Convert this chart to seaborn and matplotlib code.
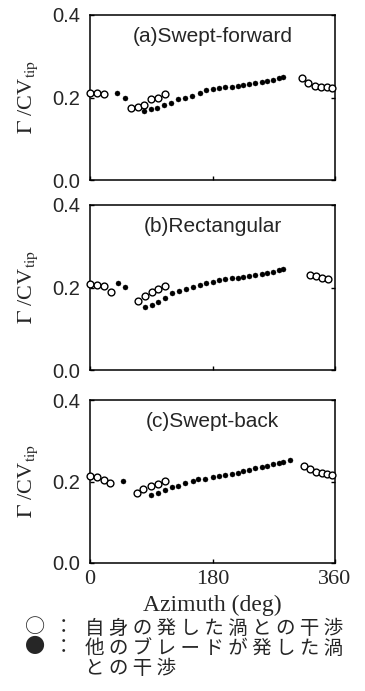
import numpy as np
import pandas as pd
import matplotlib
matplotlib.use("Agg")
import matplotlib.pyplot as plt
import seaborn as sns

# -----------------------------
# Data
# -----------------------------
panels = ["(a)Swept-forward", "(b)Rectangular", "(c)Swept-back"]

# open circles: interference with the blade's own vortex
open_a_x = [0, 10, 20, 60, 70, 80, 90, 100, 110, 311, 321, 331, 339, 348, 355]
open_a_y = [0.212, 0.210, 0.208, 0.174, 0.176, 0.183, 0.196, 0.200, 0.208,
            0.248, 0.234, 0.229, 0.226, 0.225, 0.222]
open_b_x = [0, 10, 21, 31, 71, 81, 91, 100, 110, 323, 332, 341, 350]
open_b_y = [0.208, 0.206, 0.204, 0.190, 0.168, 0.180, 0.188, 0.196, 0.204,
            0.230, 0.228, 0.224, 0.221]
open_c_x = [0, 10, 20, 29, 69, 78, 89, 100, 110, 314, 323, 332, 341, 348, 356]
open_c_y = [0.214, 0.210, 0.204, 0.196, 0.172, 0.181, 0.189, 0.194, 0.202,
            0.238, 0.230, 0.224, 0.220, 0.218, 0.216]

# filled circles: interference with vortices from the other blades
filled_a_x = [40, 51, 80, 89, 98, 109, 119, 130, 140, 150, 161, 171, 180, 190,
              199, 208, 217, 225, 234, 243, 252, 260, 269, 277, 283]
filled_a_y = [0.210, 0.198, 0.167, 0.172, 0.175, 0.182, 0.187, 0.196, 0.200,
              0.204, 0.212, 0.217, 0.220, 0.222, 0.225, 0.226, 0.228, 0.230,
              0.233, 0.234, 0.237, 0.240, 0.242, 0.247, 0.249]
filled_b_x = [41, 51, 81, 91, 100, 110, 121, 131, 141, 151, 161, 171, 180, 190,
              199, 208, 217, 225, 234, 243, 252, 260, 269, 277, 283]
filled_b_y = [0.210, 0.202, 0.152, 0.158, 0.164, 0.174, 0.187, 0.192, 0.196,
              0.202, 0.206, 0.210, 0.214, 0.217, 0.220, 0.222, 0.224, 0.226,
              0.229, 0.230, 0.233, 0.236, 0.238, 0.242, 0.245]
filled_c_x = [49, 89, 100, 110, 120, 130, 140, 151, 159, 169, 180, 190, 199,
              208, 217, 225, 234, 243, 252, 260, 269, 277, 284, 294]
filled_c_y = [0.201, 0.168, 0.172, 0.179, 0.186, 0.190, 0.197, 0.201, 0.205,
              0.207, 0.210, 0.214, 0.216, 0.218, 0.221, 0.225, 0.228, 0.232,
              0.235, 0.238, 0.242, 0.245, 0.248, 0.252]

x_ticks = [0, 180, 360]
y_ticks = [0.0, 0.2, 0.4]
y_ticklabels = ["0.0", "0.2", "0.4"]

legend_open = "自 身 の 発 し た 渦 と の 干 渉"
legend_filled = "他 の ブ レ ー ド が 発 し た 渦"
legend_filled2 = "と の 干 渉"

# -----------------------------
# Build long table
# -----------------------------
open_x = [open_a_x, open_b_x, open_c_x]
open_y = [open_a_y, open_b_y, open_c_y]
filled_x = [filled_a_x, filled_b_x, filled_c_x]
filled_y = [filled_a_y, filled_b_y, filled_c_y]

frames = []
for p, name in enumerate(panels):
    frames.append(pd.DataFrame({"panel": name, "kind": "open",
                                "azimuth": open_x[p], "gamma": open_y[p]}))
    frames.append(pd.DataFrame({"panel": name, "kind": "filled",
                                "azimuth": filled_x[p], "gamma": filled_y[p]}))
df = pd.concat(frames, ignore_index=True)

# -----------------------------
# Style
# -----------------------------
sns.set_style("ticks")
plt.rcParams["font.family"] = ["Liberation Sans", "DejaVu Sans"]
plt.rcParams["mathtext.fontset"] = "stix"

W, H = 365, 691
fig = plt.figure(figsize=(W / 100, H / 100), dpi=100)

# axes boxes in pixels: (top, bottom)
boxes = [(15, 180), (205, 370), (400, 563)]
left_px, right_px = 90, 335

for p, name in enumerate(panels):
    top, bot = boxes[p]
    ax = fig.add_axes([left_px / W, 1 - bot / H, (right_px - left_px) / W, (bot - top) / H])
    sub = df[df["panel"] == name]
    sns.scatterplot(data=sub[sub["kind"] == "open"], x="azimuth", y="gamma", ax=ax,
                    s=24, facecolor="white", edgecolor="black", linewidth=1.0,
                    clip_on=False, zorder=3)
    sns.scatterplot(data=sub[sub["kind"] == "filled"], x="azimuth", y="gamma", ax=ax,
                    s=13, color="black", edgecolor="black", linewidth=0.3,
                    clip_on=False, zorder=4)
    ax.set_xlim(0, 360)
    ax.set_ylim(0, 0.4)
    ax.set_xticks(x_ticks)
    ax.set_yticks(y_ticks)
    ax.set_yticklabels(y_ticklabels, fontsize=14.5, family="Liberation Sans")
    ax.tick_params(axis="both", direction="in", length=3, width=1, color="black",
                   right=True, top=False)
    ax.tick_params(axis="y", pad=7)
    for s in ax.spines.values():
        s.set_visible(True)
        s.set_color("black")
        s.set_linewidth(1.1)
    ax.set_ylabel(r"$\Gamma$ /CV$_{\mathrm{tip}}$", fontsize=16, family="Liberation Serif")
    ax.yaxis.set_label_coords(-0.205, 0.5)
    ax.text(0.5, 0.87, name, transform=ax.transAxes, ha="center", va="center",
            fontsize=15, family="Liberation Sans")
    if p < 2:
        ax.set_xticklabels([])
        ax.set_xlabel("")
    else:
        ax.set_xticklabels([str(t) for t in x_ticks], fontsize=16, family="Liberation Serif")
        ax.tick_params(axis="x", pad=5)
        ax.set_xlabel("Azimuth (deg)", fontsize=17, family="Liberation Serif", labelpad=4)

# -----------------------------
# Marker legend (Japanese text)
# -----------------------------
jp = ["Noto Sans CJK JP", "DejaVu Sans"]
fs = 14
rows = [628, 648, 668]
fig.text(25 / W, 1 - rows[0] / H, "○", fontsize=14.5, family=jp, va="center", ha="left")
fig.text(25 / W, 1 - rows[1] / H, "●", fontsize=14.5, family=jp, va="center", ha="left")
fig.text(54 / W, 1 - rows[0] / H, "：", fontsize=fs, family=jp, va="center", ha="left")
fig.text(54 / W, 1 - rows[1] / H, "：", fontsize=fs, family=jp, va="center", ha="left")
fig.text(85 / W, 1 - rows[0] / H, legend_open, fontsize=fs, family=jp, va="center", ha="left")
fig.text(85 / W, 1 - rows[1] / H, legend_filled, fontsize=fs, family=jp, va="center", ha="left")
fig.text(85 / W, 1 - rows[2] / H, legend_filled2, fontsize=fs, family=jp, va="center", ha="left")

fig.savefig("out.png", dpi=100)
